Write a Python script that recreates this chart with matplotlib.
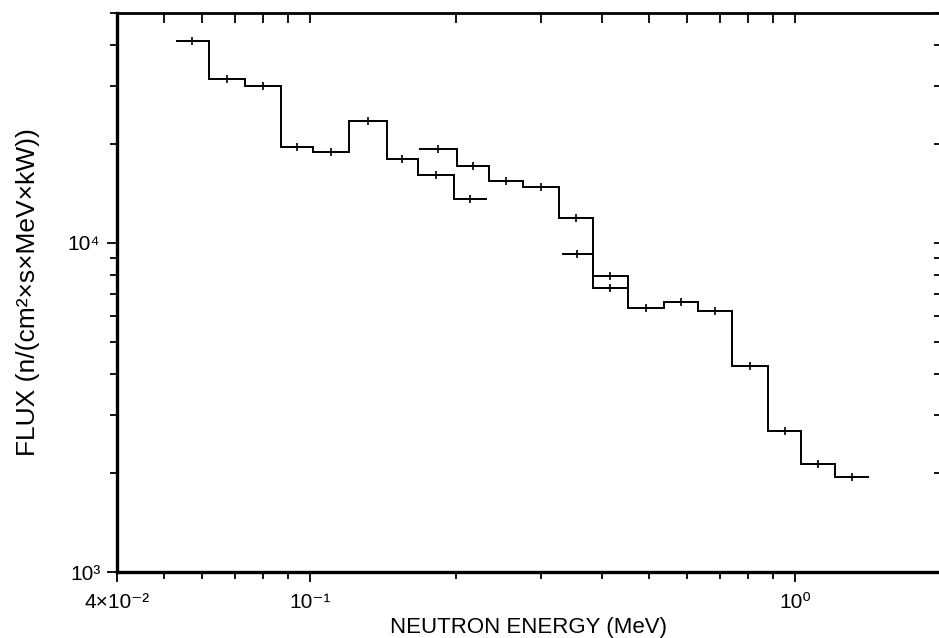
import numpy as np
import matplotlib
matplotlib.use("Agg")
import matplotlib.pyplot as plt
from matplotlib.ticker import FixedLocator, LogLocator, NullFormatter

plt.rcParams['font.family'] = ['Liberation Sans Narrow', 'Liberation Sans', 'DejaVu Sans']

# low energy run (bin edges in MeV, flux per bin)
edges_a = [0.0529, 0.0619, 0.0734, 0.0871, 0.1014, 0.1203, 0.1441, 0.1670, 0.1981, 0.2317]
flux_a = [4.12e4, 3.16e4, 3.01e4, 1.96e4, 1.89e4, 2.35e4, 1.80e4, 1.61e4, 1.36e4]

# main run
edges_b = [0.1678, 0.2010, 0.2339, 0.2750, 0.3262, 0.3832, 0.4525, 0.5370,
           0.6310, 0.7416, 0.8797, 1.029, 1.209, 1.421]
flux_b = [1.934e4, 1.718e4, 1.547e4, 1.483e4, 1.194e4, 7.96e3, 6.36e3,
          6.63e3, 6.23e3, 4.24e3, 2.69e3, 2.13e3, 1.95e3]

# short overlap run
edges_c = [0.3308, 0.3832, 0.4525]
flux_c = [9.28e3, 7.31e3]

x_ticks = [0.04, 0.1, 1.0]
x_labels = ['4×10⁻²', '10⁻¹', '10⁰']
y_ticks = [1e3, 1e4]
y_labels = ['10³', '10⁴']

fig = plt.figure(figsize=(9.39, 6.38), dpi=100)
ax = fig.add_axes([117 / 939, 66 / 638, 824 / 939, 559 / 638])

for edges, flux in [(edges_a, flux_a), (edges_b, flux_b), (edges_c, flux_c)]:
    e = np.array(edges)
    ax.stairs(flux, e, baseline=None, color='black', lw=1.4)
    centres = np.sqrt(e[:-1] * e[1:])
    ax.plot(centres, flux, ls='none', marker='+', ms=6, mew=1.2, color='black')

ax.set_xscale('log')
ax.set_yscale('log')
ax.set_xlim(0.04, 2.0)
ax.set_ylim(1e3, 5e4)

ax.xaxis.set_major_locator(FixedLocator(x_ticks))
ax.set_xticklabels(x_labels)
ax.xaxis.set_minor_locator(LogLocator(base=10, subs=np.arange(2, 10)))
ax.xaxis.set_minor_formatter(NullFormatter())
ax.yaxis.set_major_locator(FixedLocator(y_ticks))
ax.set_yticklabels(y_labels)
ax.yaxis.set_minor_locator(LogLocator(base=10, subs=np.arange(2, 10)))
ax.yaxis.set_minor_formatter(NullFormatter())

# left/bottom ticks point out, the top and right ones point in
ax.tick_params(which='both', width=1.3, labelsize=15)
ax.tick_params(axis='x', which='both', direction='out', pad=8)
ax.tick_params(axis='y', which='both', direction='out', pad=5)
ax.tick_params(which='major', length=7)
ax.tick_params(which='minor', length=5)

top = ax.twiny()
top.set_xscale('log')
top.set_xlim(ax.get_xlim())
top.xaxis.set_major_locator(FixedLocator(x_ticks))
top.xaxis.set_minor_locator(LogLocator(base=10, subs=np.arange(2, 10)))
top.xaxis.set_major_formatter(NullFormatter())
top.xaxis.set_minor_formatter(NullFormatter())
top.tick_params(which='both', direction='in', labeltop=False, length=7, width=1.3)
for s in top.spines.values():
    s.set_visible(False)

right = ax.twinx()
right.set_yscale('log')
right.set_ylim(ax.get_ylim())
right.yaxis.set_major_locator(FixedLocator(y_ticks))
right.yaxis.set_minor_locator(LogLocator(base=10, subs=np.arange(2, 10)))
right.yaxis.set_major_formatter(NullFormatter())
right.yaxis.set_minor_formatter(NullFormatter())
right.tick_params(which='both', direction='in', labelright=False, length=5, width=1.3)
for s in right.spines.values():
    s.set_visible(False)

for s in ['left', 'bottom']:
    ax.spines[s].set_linewidth(2.4)
ax.spines['top'].set_linewidth(2.0)
ax.spines['right'].set_visible(False)

ax.set_xlabel('NEUTRON ENERGY (MeV)', fontsize=16, labelpad=4)
ax.set_ylabel('FLUX (n/(cm²×s×MeV×kW))', fontsize=19, labelpad=20)

fig.savefig('out.png', dpi=100)
